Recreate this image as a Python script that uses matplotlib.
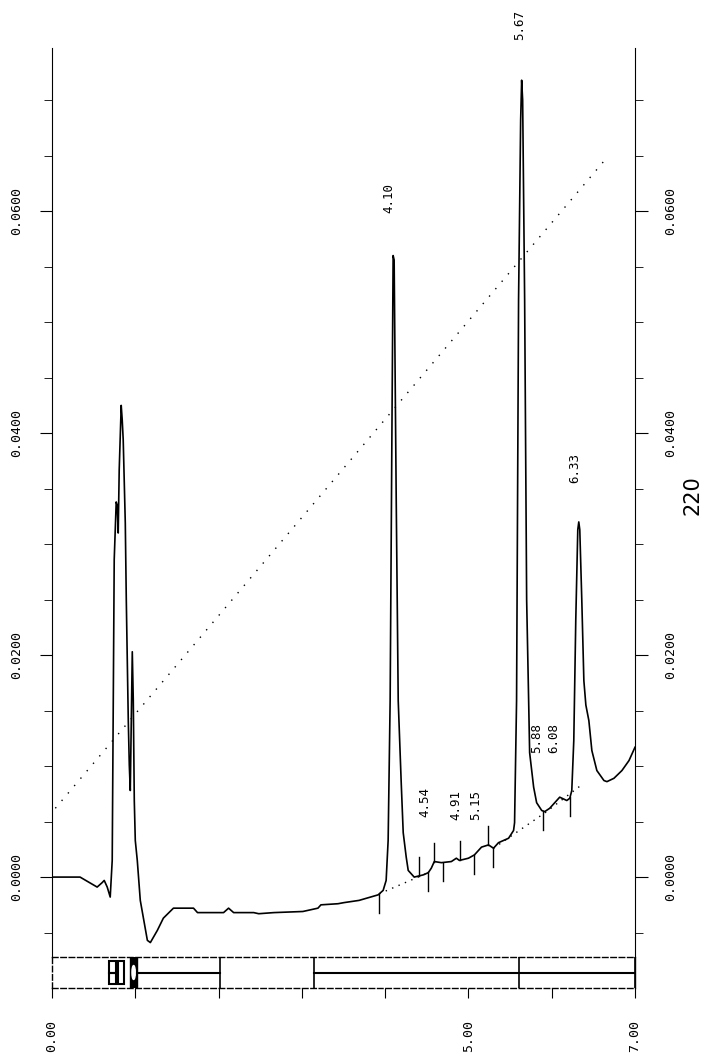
import matplotlib
matplotlib.use('Agg')
import matplotlib.pyplot as plt
from matplotlib.patches import Rectangle, Ellipse
import numpy as np

# chromatogram trace (min, AU)
time = [0.000, 0.337, 0.542, 0.602, 0.627, 0.663, 0.699, 0.723, 0.747, 0.771,
        0.783, 0.795, 0.807, 0.831, 0.843, 0.855, 0.880, 0.892, 0.904, 0.916,
        0.928, 0.940, 0.952, 0.964, 0.976, 0.988, 1.000, 1.024, 1.060, 1.145,
        1.181, 1.265, 1.337, 1.458, 1.699, 1.747, 2.060, 2.120, 2.181, 2.422,
        2.482, 2.663, 3.012, 3.193, 3.229, 3.434, 3.506, 3.687, 3.916, 3.976,
        4.012, 4.036, 4.060, 4.084, 4.096, 4.108, 4.133, 4.157, 4.193, 4.217,
        4.253, 4.277, 4.349, 4.458, 4.518, 4.554, 4.590, 4.675, 4.795, 4.855,
        4.892, 5.000, 5.072, 5.157, 5.241, 5.301, 5.361, 5.482, 5.542, 5.554,
        5.578, 5.602, 5.627, 5.639, 5.651, 5.675, 5.699, 5.723, 5.735, 5.783,
        5.819, 5.880, 5.916, 5.976, 6.060, 6.096, 6.181, 6.217, 6.241, 6.265,
        6.289, 6.313, 6.325, 6.337, 6.361, 6.386, 6.410, 6.446, 6.482, 6.542,
        6.627, 6.663, 6.747, 6.843, 6.928, 7.000]
absorb = [0.0000, 0.0000, -0.0009, -0.0005, -0.0003, -0.0009, -0.0018, 0.0015, 0.0286, 0.0338,
          0.0335, 0.0310, 0.0367, 0.0425, 0.0412, 0.0394, 0.0319, 0.0250, 0.0195, 0.0141,
          0.0101, 0.0078, 0.0141, 0.0203, 0.0159, 0.0069, 0.0033, 0.0015, -0.0021, -0.0057,
          -0.0059, -0.0048, -0.0037, -0.0028, -0.0028, -0.0032, -0.0032, -0.0028, -0.0032, -0.0032,
          -0.0033, -0.0032, -0.0031, -0.0028, -0.0025, -0.0024, -0.0023, -0.0021, -0.0016, -0.0012,
          -0.0003, 0.0033, 0.0159, 0.0430, 0.0560, 0.0556, 0.0340, 0.0159, 0.0085, 0.0040,
          0.0018, 0.0006, 0.0000, 0.0002, 0.0004, 0.0008, 0.0014, 0.0013, 0.0014, 0.0017,
          0.0015, 0.0017, 0.0020, 0.0027, 0.0029, 0.0026, 0.0031, 0.0035, 0.0042, 0.0049,
          0.0159, 0.0520, 0.0682, 0.0718, 0.0700, 0.0520, 0.0250, 0.0159, 0.0112, 0.0081,
          0.0067, 0.0060, 0.0059, 0.0062, 0.0069, 0.0072, 0.0069, 0.0071, 0.0078, 0.0123,
          0.0232, 0.0313, 0.0320, 0.0313, 0.0250, 0.0177, 0.0155, 0.0141, 0.0114, 0.0096,
          0.0087, 0.0086, 0.0089, 0.0096, 0.0105, 0.0117]

# gradient trace (dotted)
grad_t = [0.04, 6.66]
grad_a = [0.0062, 0.0648]

# integration baselines (dotted)
bl_t0 = [3.93, 5.30, 5.92]
bl_t1 = [4.52, 5.92, 6.34]
bl_a0 = [-0.0015, 0.0026, 0.0058]
bl_a1 = [0.0004, 0.0058, 0.0082]

# peak start/stop marks
mark_t = [3.93, 4.41, 4.52, 4.59, 4.69, 4.90, 5.07, 5.23, 5.30, 5.90, 6.22]
mark_dir = [-1, 1, -1, 1, -1, 1, -1, 1, -1, -1, -1]

# peak labels
peak_rt = ['4.10', '4.54', '4.91', '5.15', '5.67', '5.88', '6.08', '6.33']
label_y = [0.0598, 0.0054, 0.0051, 0.0051, 0.0754, 0.0112, 0.0112, 0.0355]

y_ticks = [0.0, 0.02, 0.04, 0.06]
x_ticks = [0, 1, 2, 3, 4, 5, 6, 7]
x_labels = ['0.00', '', '', '', '', '5.00', '', '7.00']

# event strip under the trace
strip_lines = [(1.02, 2.02), (3.14, 7.0)]
strip_vlines = [2.02, 3.14, 5.61, 7.0]

mono = 'DejaVu Sans Mono'
W, H = 719, 1055
fig = plt.figure(figsize=(W / 100, H / 100), dpi=100)
ax = fig.add_axes([52 / W, 1 - 957 / H, (635 - 52) / W, (957 - 48) / H])
ax.plot(time, absorb, color='black', lw=1.2)
ax.plot(grad_t, grad_a, color='black', lw=1, linestyle=(0, (1, 6)))
for t0, t1, a0, a1 in zip(bl_t0, bl_t1, bl_a0, bl_a1):
    ax.plot([t0, t1], [a0, a1], color='black', lw=1, linestyle=(0, (1, 4)))
for t, d in zip(mark_t, mark_dir):
    a = np.interp(t, time, absorb)
    ax.plot([t, t], [a, a + d * 0.0017], color='black', lw=1)
for rt, ly in zip(peak_rt, label_y):
    ax.text(float(rt) + 0.02, ly, rt, rotation=90, ha='right', va='bottom',
            family=mono, fontsize=9)

ax.set_xlim(0, 7)
ax.set_ylim(-0.0072, 0.0747)
ax.spines['top'].set_visible(False)
ax.spines['bottom'].set_visible(False)
ax.set_xticks([])
ax.set_yticks(y_ticks)
ax.set_yticks(np.arange(-0.005, 0.075, 0.005), minor=True)
ax.set_yticklabels(['%.4f' % v for v in y_ticks])
ax.tick_params(axis='y', which='both', right=True, labelright=True, direction='out')
ax.tick_params(axis='y', which='major', length=9, pad=12)
ax.tick_params(axis='y', which='minor', length=6)
for lab in ax.get_yticklabels(which='both'):
    lab.set_rotation(90)
    lab.set_va('center')
    lab.set_family(mono)
    lab.set_fontsize(9.5)

fig.text(692 / W, 1 - 495 / H, '220', rotation=90, ha='center', va='center', fontsize=15)

# event strip
st = fig.add_axes([52 / W, 1 - 988 / H, (635 - 52) / W, (988 - 957) / H])
st.set_xlim(0, 7)
st.set_ylim(0, 1)
for s in st.spines.values():
    s.set_linestyle((0, (4, 2)))
    s.set_linewidth(1)
st.spines['right'].set_linestyle('-')
st.add_patch(Rectangle((0.68, 0.12), 0.09, 0.38, fill=False, lw=1.5))
st.add_patch(Rectangle((0.68, 0.5), 0.09, 0.38, fill=False, lw=1.5))
st.add_patch(Rectangle((0.79, 0.12), 0.07, 0.76, fill=False, lw=1.5))
st.add_patch(Rectangle((0.94, 0.0), 0.08, 1.0, color='black'))
st.add_patch(Ellipse((0.98, 0.5), 0.04, 0.45, color='white'))
for t0, t1 in strip_lines:
    st.plot([t0, t1], [0.5, 0.5], color='black', lw=1.5)
for t in strip_vlines:
    st.plot([t, t], [0, 1], color='black', lw=1.2)
st.set_yticks([])
st.set_xticks(x_ticks)
st.set_xticklabels(x_labels)
st.tick_params(axis='x', direction='out', length=7, pad=16)
for lab in st.get_xticklabels():
    lab.set_rotation(90)
    lab.set_va('top')
    lab.set_family(mono)
    lab.set_fontsize(9.5)

fig.savefig('out.png', dpi=100)
